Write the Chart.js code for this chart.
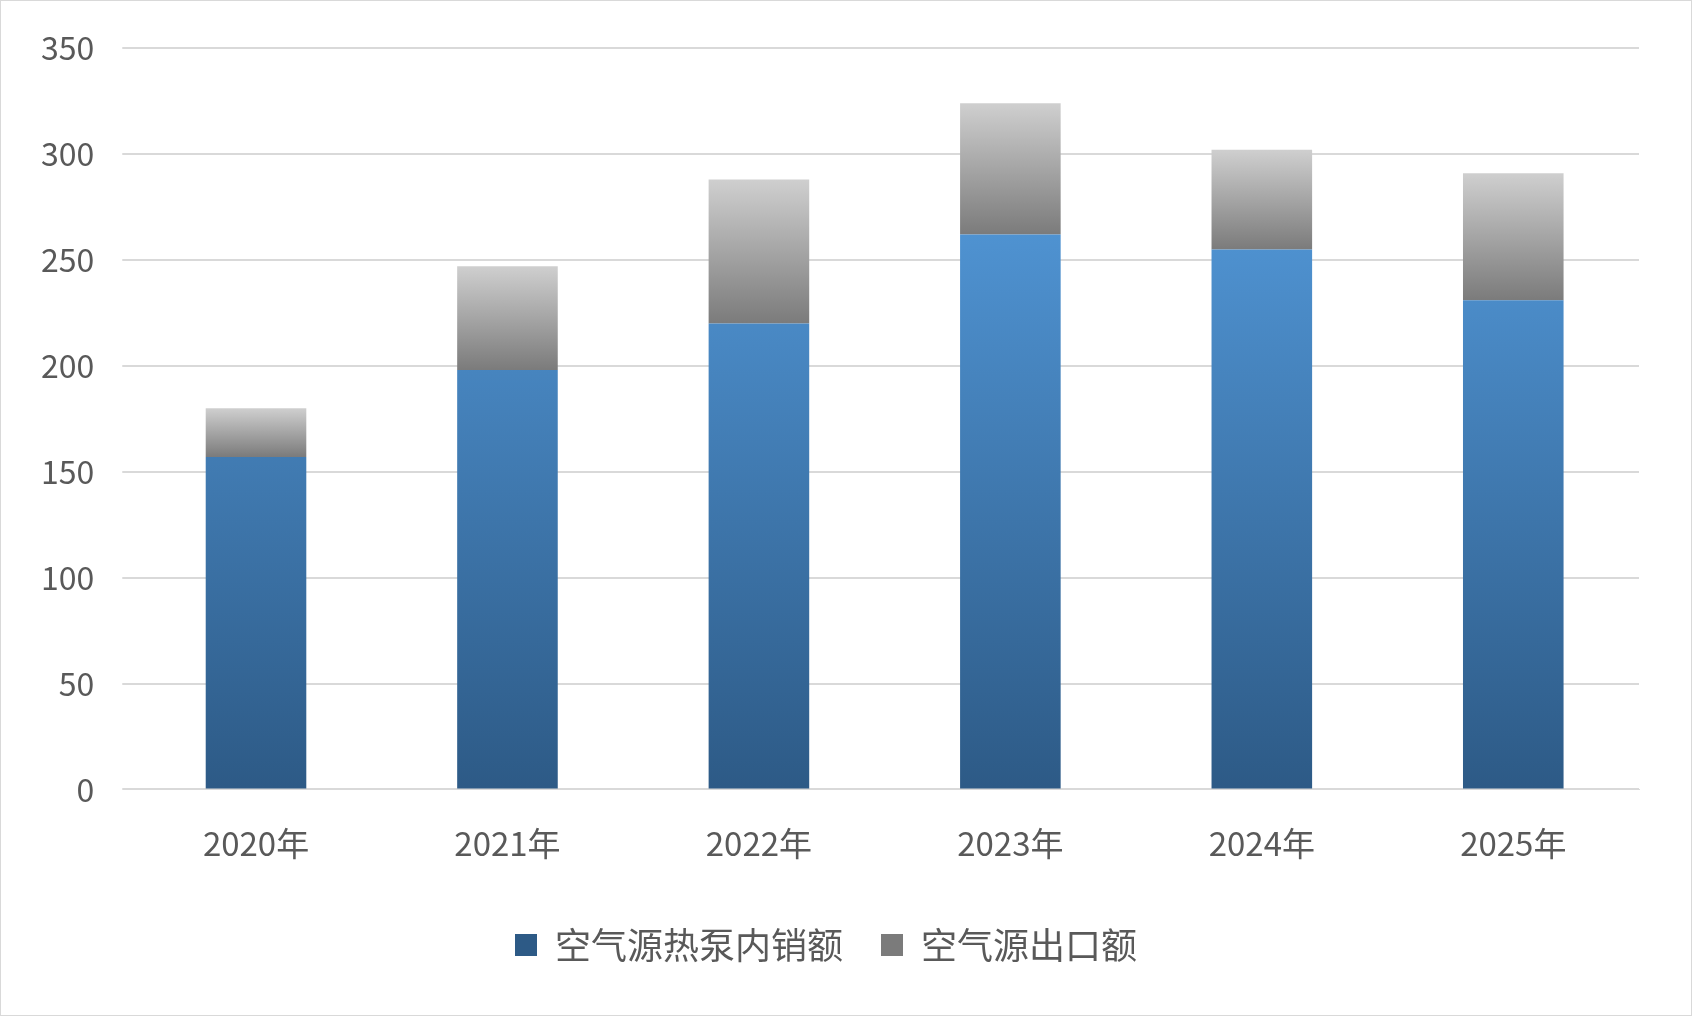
<!DOCTYPE html>
<html><head><meta charset="utf-8">
<script src="https://cdn.jsdelivr.net/npm/chart.js@4/dist/chart.umd.min.js"></script>
<style>
html,body{margin:0;padding:0;background:#fff}
#wrap{position:absolute;left:0;top:0;width:1690px;height:1014px;border:1px solid #d9d9d9}
</style></head><body>
<div id="wrap"><canvas id="c"></canvas></div>
<script>
const years = ['2020年','2021年','2022年','2023年','2024年','2025年'];
const domestic = [157, 198, 220, 262, 255, 231];
const exportVals = [23, 49, 68, 62, 47, 60];
const yTicks = [0, 50, 100, 150, 200, 250, 300, 350];

function grad(ctx, top, bottom) {
    const a = ctx.chart.chartArea;
    if (!a) return top;
    const g = ctx.chart.ctx.createLinearGradient(0, a.top, 0, a.bottom);
    g.addColorStop(0, top);
    g.addColorStop(1, bottom);
    return g;
}

new Chart(document.getElementById('c'), {
    type: 'bar',
    data: {
        labels: years,
        datasets: [{
            label: '空气源热泵内销额',
            data: domestic,
            backgroundColor: (ctx) => grad(ctx, '#5aa5ea', '#2d5a86'),
            barPercentage: 0.4, categoryPercentage: 1
        }, {
            label: '空气源出口额',
            data: exportVals,
            backgroundColor: (ctx) => {
                const a = ctx.chart.chartArea;
                if (!a) return '#aaa';
                const y = ctx.chart.scales.y;
                const t = y.getPixelForValue(domestic[ctx.dataIndex] + exportVals[ctx.dataIndex]);
                const b = y.getPixelForValue(domestic[ctx.dataIndex]);
                const g = ctx.chart.ctx.createLinearGradient(0, t, 0, b);
                g.addColorStop(0, '#cfcfcf');
                g.addColorStop(1, '#7b7b7b');
                return g;
            },
            barPercentage: 0.4, categoryPercentage: 1
        }]
    },
    options: {
        responsive: true,
        maintainAspectRatio: false,
        animation: false,
        layout: { padding: { left: 12, right: 52, top: 24, bottom: 42 } },
        plugins: {
            legend: {
                position: 'bottom',
                labels: { font: { size: 36, family: 'Noto Sans CJK SC' }, color: '#595959', boxWidth: 22, boxHeight: 22, padding: 38 }
            },
            tooltip: { enabled: false }
        },
        scales: {
            x: {
                stacked: true,
                grid: { display: false },
                border: { color: '#d9d9d9' },
                ticks: { font: { size: 33, family: 'Noto Sans CJK SC' }, color: '#595959', padding: 26 }
            },
            y: {
                stacked: true,
                min: 0, max: 350,
                afterBuildTicks: (s) => { s.ticks = yTicks.map(v => ({ value: v })); },
                grid: { color: '#d9d9d9', lineWidth: 2 },
                border: { display: false },
                ticks: { font: { size: 32, family: 'Noto Sans CJK SC' }, color: '#595959', padding: 28 }
            }
        }
    }
});
</script>
</body></html>
